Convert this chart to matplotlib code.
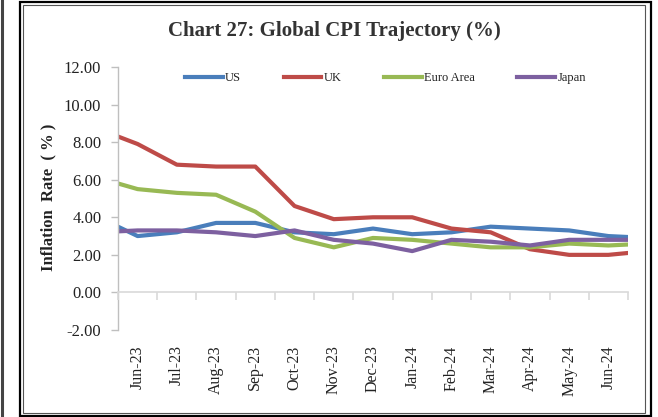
import matplotlib
matplotlib.use("Agg")
import matplotlib.pyplot as plt
from matplotlib.patches import Rectangle
from matplotlib.lines import Line2D

months = ["May-23", "Jun-23", "Jul-23", "Aug-23", "Sep-23", "Oct-23", "Nov-23",
          "Dec-23", "Jan-24", "Feb-24", "Mar-24", "Apr-24", "May-24", "Jun-24", "Jul-24"]
us = [4.0, 3.0, 3.2, 3.7, 3.7, 3.2, 3.1, 3.4, 3.1, 3.2, 3.5, 3.4, 3.3, 3.0, 2.9]
uk = [8.7, 7.9, 6.8, 6.7, 6.7, 4.6, 3.9, 4.0, 4.0, 3.4, 3.2, 2.3, 2.0, 2.0, 2.2]
euro = [6.1, 5.5, 5.3, 5.2, 4.3, 2.9, 2.4, 2.9, 2.8, 2.6, 2.4, 2.4, 2.6, 2.5, 2.6]
japan = [3.2, 3.3, 3.3, 3.2, 3.0, 3.3, 2.8, 2.6, 2.2, 2.8, 2.7, 2.5, 2.8, 2.8, 2.8]
series_names = ["US", "UK", "Euro Area", "Japan"]
shown_labels = months[1:14]
yticks = [-2, 0, 2, 4, 6, 8, 10, 12]

colors = ["#4A7EBB", "#BE4B48", "#98B954", "#7D60A0"]
W, H = 658, 417
fig = plt.figure(figsize=(W / 100, H / 100), dpi=100)
serif = "Liberation Serif"

ax = fig.add_axes([118 / W, 1 - 330 / H, (628 - 118) / W, (330 - 67) / H])
x = list(range(len(months)))
handles = []
for vals, c, name in zip([us, uk, euro, japan], colors, series_names):
    h, = ax.plot(x, vals, color=c, lw=3.0, solid_joinstyle="round", label=name)
    handles.append(h)

ax.set_xlim(0.5, 13.5)
ax.set_ylim(-2, 12)
ax.set_yticks(yticks)
ax.set_yticklabels([f"{v:.2f}" for v in yticks], fontfamily=serif, fontsize=12, color="#222222")
ax.tick_params(axis="y", direction="out", length=5, width=1, color="#BFBFBF", pad=7)
for s in ["top", "right", "bottom"]:
    ax.spines[s].set_visible(False)
ax.spines["left"].set_color("#BFBFBF")
ax.spines["left"].set_linewidth(1)

ax.set_xticks(range(1, 14))
ax.set_xticklabels(shown_labels, rotation=90, fontfamily=serif, fontsize=11.5, color="#222222")
ax.tick_params(axis="x", length=0, pad=11)

ax2 = ax.twiny()
ax2.set_xlim(0.5, 13.5)
for s in ["top", "right", "left"]:
    ax2.spines[s].set_visible(False)
ax2.spines["bottom"].set_position(("data", 0))
ax2.spines["bottom"].set_color("#D9D9D9")
ax2.spines["bottom"].set_linewidth(1.2)
ax2.xaxis.set_ticks_position("bottom")
ax2.set_xticks([i + 0.5 for i in range(0, 14)])
ax2.set_xticklabels([])
ax2.tick_params(axis="x", direction="out", length=6, width=1.2, color="#D9D9D9")

fig.text(48 / W, 1 - 197 / H, "Inflation  Rate  ( % )", rotation=90, fontfamily=serif,
         fontweight="bold", fontsize=12, ha="center", va="center", color="#222222")
fig.text(334 / W, 1 - 31 / H, "Chart 27: Global CPI Trajectory (%)", fontfamily=serif,
         fontweight="bold", fontsize=15, ha="center", va="center", color="#333333")

leg = fig.legend(handles=handles, loc="center left", bbox_to_anchor=(185 / W, 1 - 78 / H),
                 ncol=4, frameon=False, prop={"family": serif, "size": 9},
                 handlelength=3.0, handletextpad=0.2, columnspacing=3.4, borderpad=0,
                 borderaxespad=0)
for t in leg.get_texts():
    t.set_color("#222222")

# frame
fig.patches.append(Rectangle((19.5 / W, 1.5 / H), 631 / W, 413.5 / H, transform=fig.transFigure,
                             fill=False, ec="black", lw=1.6, zorder=10))
fig.patches.append(Rectangle((22.5 / W, 4.5 / H), 622.5 / W, 408 / H, transform=fig.transFigure,
                             fill=False, ec="#555555", lw=0.8, zorder=10))
fig.lines.append(Line2D([1.5 / W, 1.5 / W], [0, 1], transform=fig.transFigure, color="#444444", lw=2.2))

fig.savefig("out.png", dpi=100)
